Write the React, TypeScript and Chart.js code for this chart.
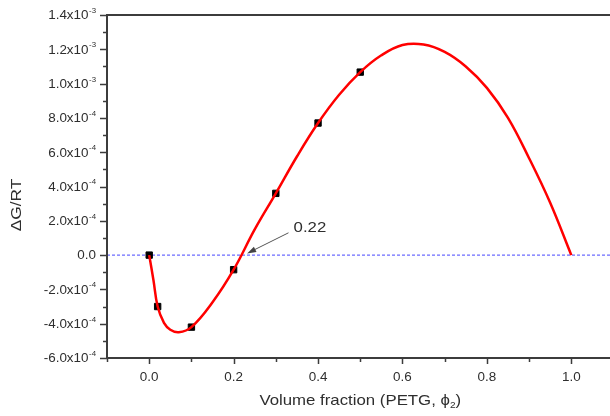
import React, { useEffect, useRef } from "react";
import { Chart, registerables } from "chart.js";

Chart.register(...registerables);

// ---- data ----
const curveX = [0, 0.01, 0.02, 0.035, 0.05, 0.07, 0.1, 0.15, 0.2, 0.25, 0.3, 0.35, 0.4, 0.45, 0.5, 0.55, 0.6, 0.65, 0.7, 0.75, 0.8, 0.85, 0.9, 0.95, 1.0];
const curveY = [0, -1.45e-4, -3.0e-4, -3.95e-4, -4.35e-4, -4.5e-4, -4.2e-4, -2.75e-4, -0.85e-4, 1.5e-4, 3.6e-4, 5.75e-4, 7.7e-4, 9.35e-4, 10.67e-4, 11.65e-4, 12.25e-4, 12.28e-4, 11.85e-4, 11.0e-4, 9.75e-4, 8.0e-4, 5.65e-4, 3.05e-4, 0];

const sampleX = [0, 0.02, 0.1, 0.2, 0.3, 0.4, 0.5];
const sampleY = [0, -3.0e-4, -4.2e-4, -0.85e-4, 3.6e-4, 7.7e-4, 10.67e-4];

const zeroLineX = [-0.1, 1.1];

const xTicks = [0, 0.2, 0.4, 0.6, 0.8, 1.0];
const xTickLabels = ["0.0", "0.2", "0.4", "0.6", "0.8", "1.0"];
const xMinorTicks = [-0.1, 0.1, 0.3, 0.5, 0.7, 0.9, 1.1];

const yTicks = [-6e-4, -4e-4, -2e-4, 0, 2e-4, 4e-4, 6e-4, 8e-4, 1.0e-3, 1.2e-3, 1.4e-3];
const yTickMantissas = ["-6.0x10", "-4.0x10", "-2.0x10", "0.0", "2.0x10", "4.0x10", "6.0x10", "8.0x10", "1.0x10", "1.2x10", "1.4x10"];
const yTickExponents = ["-4", "-4", "-4", "", "-4", "-4", "-4", "-4", "-3", "-3", "-3"];
const yMinorTicks = [-5e-4, -3e-4, -1e-4, 1e-4, 3e-4, 5e-4, 7e-4, 9e-4, 1.1e-3, 1.3e-3];

const xTitle = "Volume fraction (PETG, ";
const xTitleSymbol = "\u03d5";
const xTitleSub = "2";
const yTitle = "\u0394G/RT";

const annotationText = "0.22";
const annotationTip = { x: 0.232, y: 0.1e-4 };
const annotationTail = { x: 0.33, y: 1.3e-4 };
const annotationTextPos = { x: 0.342, y: 1.6e-4 };

// ---- styling ----
const FONT = "Arial, 'Liberation Sans', sans-serif";
const TEXT_COLOR = "#2e2e2e";
const AXIS_COLOR = "#3c3c3c";
const STRETCH = 1.12;

function drawText(ctx: CanvasRenderingContext2D, text: string, x: number, y: number, size: number, align: CanvasTextAlign, sx = STRETCH) {
  ctx.save();
  ctx.translate(x, y);
  ctx.scale(sx, 1);
  ctx.font = `${size}px ${FONT}`;
  ctx.textAlign = align;
  ctx.textBaseline = "middle";
  ctx.fillStyle = TEXT_COLOR;
  ctx.fillText(text, 0, 0);
  ctx.restore();
}
function textWidth(ctx: CanvasRenderingContext2D, text: string, size: number, sx = STRETCH) {
  ctx.save();
  ctx.font = `${size}px ${FONT}`;
  const w = ctx.measureText(text).width * sx;
  ctx.restore();
  return w;
}

const axesPlugin = {
  id: "originAxes",
  afterDraw(chart: any) {
    const ctx: CanvasRenderingContext2D = chart.ctx;
    const { left, right, top, bottom } = chart.chartArea;
    const xs = chart.scales.x;
    const ys = chart.scales.y;

    ctx.save();
    ctx.strokeStyle = AXIS_COLOR;
    ctx.lineWidth = 2;
    ctx.beginPath();
    ctx.moveTo(left, top);
    ctx.lineTo(right, top);
    ctx.lineTo(right, bottom);
    ctx.lineTo(left, bottom);
    ctx.closePath();
    ctx.stroke();

    ctx.lineWidth = 1.5;
    ctx.beginPath();
    yTicks.forEach((v) => {
      const p = Math.round(ys.getPixelForValue(v)) + 0.5;
      ctx.moveTo(left - 7, p);
      ctx.lineTo(left, p);
    });
    yMinorTicks.forEach((v) => {
      const p = Math.round(ys.getPixelForValue(v)) + 0.5;
      ctx.moveTo(left - 4, p);
      ctx.lineTo(left, p);
    });
    xTicks.forEach((v) => {
      const p = Math.round(xs.getPixelForValue(v)) + 0.5;
      ctx.moveTo(p, bottom);
      ctx.lineTo(p, bottom + 6);
    });
    xMinorTicks.forEach((v) => {
      const p = Math.round(xs.getPixelForValue(v)) + 0.5;
      ctx.moveTo(p, bottom);
      ctx.lineTo(p, bottom + 4);
    });
    ctx.stroke();

    // y tick labels with superscript exponents
    const labelRight = left - 11;
    yTicks.forEach((v, i) => {
      const p = ys.getPixelForValue(v);
      const exp = yTickExponents[i];
      const ws = exp ? textWidth(ctx, exp, 7) : 0;
      drawText(ctx, yTickMantissas[i], labelRight - ws - (exp ? 0.5 : 0), p + 1, 12, "right");
      if (exp) drawText(ctx, exp, labelRight - ws, p - 4, 7, "left");
    });

    // x tick labels
    xTicks.forEach((v, i) => {
      drawText(ctx, xTickLabels[i], xs.getPixelForValue(v), bottom + 20, 12, "center");
    });

    // x title
    const w1 = textWidth(ctx, xTitle, 15);
    const w2 = textWidth(ctx, xTitleSymbol, 15);
    const w3 = textWidth(ctx, xTitleSub, 9);
    const w4 = textWidth(ctx, ")", 15);
    const total = w1 + w2 + w3 + w4;
    const cx = (left + right) / 2;
    let x0 = cx - total / 2;
    const ty = bottom + 43;
    drawText(ctx, xTitle, x0, ty, 15, "left");
    x0 += w1;
    drawText(ctx, xTitleSymbol, x0, ty, 15, "left");
    x0 += w2;
    drawText(ctx, xTitleSub, x0, ty + 5, 9, "left");
    x0 += w3;
    drawText(ctx, ")", x0, ty, 15, "left");

    // y title (rotated)
    ctx.save();
    ctx.translate(17, 205);
    ctx.rotate(-Math.PI / 2);
    ctx.scale(1.15, 1);
    ctx.font = `15px ${FONT}`;
    ctx.textAlign = "center";
    ctx.textBaseline = "middle";
    ctx.fillStyle = TEXT_COLOR;
    ctx.fillText(yTitle, 0, 0);
    ctx.restore();

    // annotation arrow
    const tx = xs.getPixelForValue(annotationTip.x);
    const tyy = ys.getPixelForValue(annotationTip.y);
    const sx0 = xs.getPixelForValue(annotationTail.x);
    const sy0 = ys.getPixelForValue(annotationTail.y);
    const ang = Math.atan2(tyy - sy0, tx - sx0);
    ctx.strokeStyle = "#555555";
    ctx.fillStyle = "#444444";
    ctx.lineWidth = 1;
    ctx.beginPath();
    ctx.moveTo(sx0, sy0);
    ctx.lineTo(tx - Math.cos(ang) * 6, tyy - Math.sin(ang) * 6);
    ctx.stroke();
    ctx.beginPath();
    ctx.moveTo(tx, tyy);
    ctx.lineTo(tx - Math.cos(ang) * 9 + Math.sin(ang) * 3, tyy - Math.sin(ang) * 9 - Math.cos(ang) * 3);
    ctx.lineTo(tx - Math.cos(ang) * 9 - Math.sin(ang) * 3, tyy - Math.sin(ang) * 9 + Math.cos(ang) * 3);
    ctx.closePath();
    ctx.fill();
    drawText(ctx, annotationText, xs.getPixelForValue(annotationTextPos.x), ys.getPixelForValue(annotationTextPos.y), 15, "left");

    ctx.restore();
  },
};

export default function App() {
  const ref = useRef<HTMLCanvasElement>(null);
  useEffect(() => {
    if (!ref.current) return;
    const chart = new Chart(ref.current, {
      type: "scatter",
      data: {
        datasets: [
          {
            label: "curve",
            data: curveX.map((x, i) => ({ x, y: curveY[i] })),
            showLine: true,
            borderColor: "#ff0000",
            borderWidth: 2.5,
            pointRadius: 0,
            tension: 0.4,
            order: 0,
          } as any,
          {
            label: "samples",
            data: sampleX.map((x, i) => ({ x, y: sampleY[i] })),
            showLine: false,
            pointStyle: "rect",
            pointRadius: 4.5,
            backgroundColor: "#000000",
            borderColor: "#000000",
            borderWidth: 1,
            order: 1,
          },
          {
            label: "zero",
            data: zeroLineX.map((x) => ({ x, y: 0 })),
            showLine: true,
            borderColor: "#4646ff",
            borderWidth: 1,
            borderDash: [3, 2],
            pointRadius: 0,
            order: 2,
          },
        ],
      },
      options: {
        animation: false,
        responsive: false,
        maintainAspectRatio: false,
        layout: { padding: { top: 15, right: 2, left: 0, bottom: 0 } },
        plugins: { legend: { display: false }, tooltip: { enabled: false } },
        scales: {
          x: {
            type: "linear",
            min: -0.1,
            max: 1.1,
            ticks: { display: false },
            grid: { display: false },
            border: { display: false },
            afterFit: (s: any) => {
              s.height = 416 - 358;
            },
          },
          y: {
            type: "linear",
            min: -6e-4,
            max: 1.4e-3,
            ticks: { display: false },
            grid: { display: false },
            border: { display: false },
            afterFit: (s: any) => {
              s.width = 107;
            },
          },
        },
      },
      plugins: [axesPlugin],
    });
    return () => chart.destroy();
  }, []);
  return (
    <div style={{ position: "absolute", left: 0, top: 0, width: 610, height: 416, overflow: "hidden", background: "#fff" }}>
      <canvas ref={ref} width={619} height={416} style={{ display: "block" }} />
    </div>
  );
}
